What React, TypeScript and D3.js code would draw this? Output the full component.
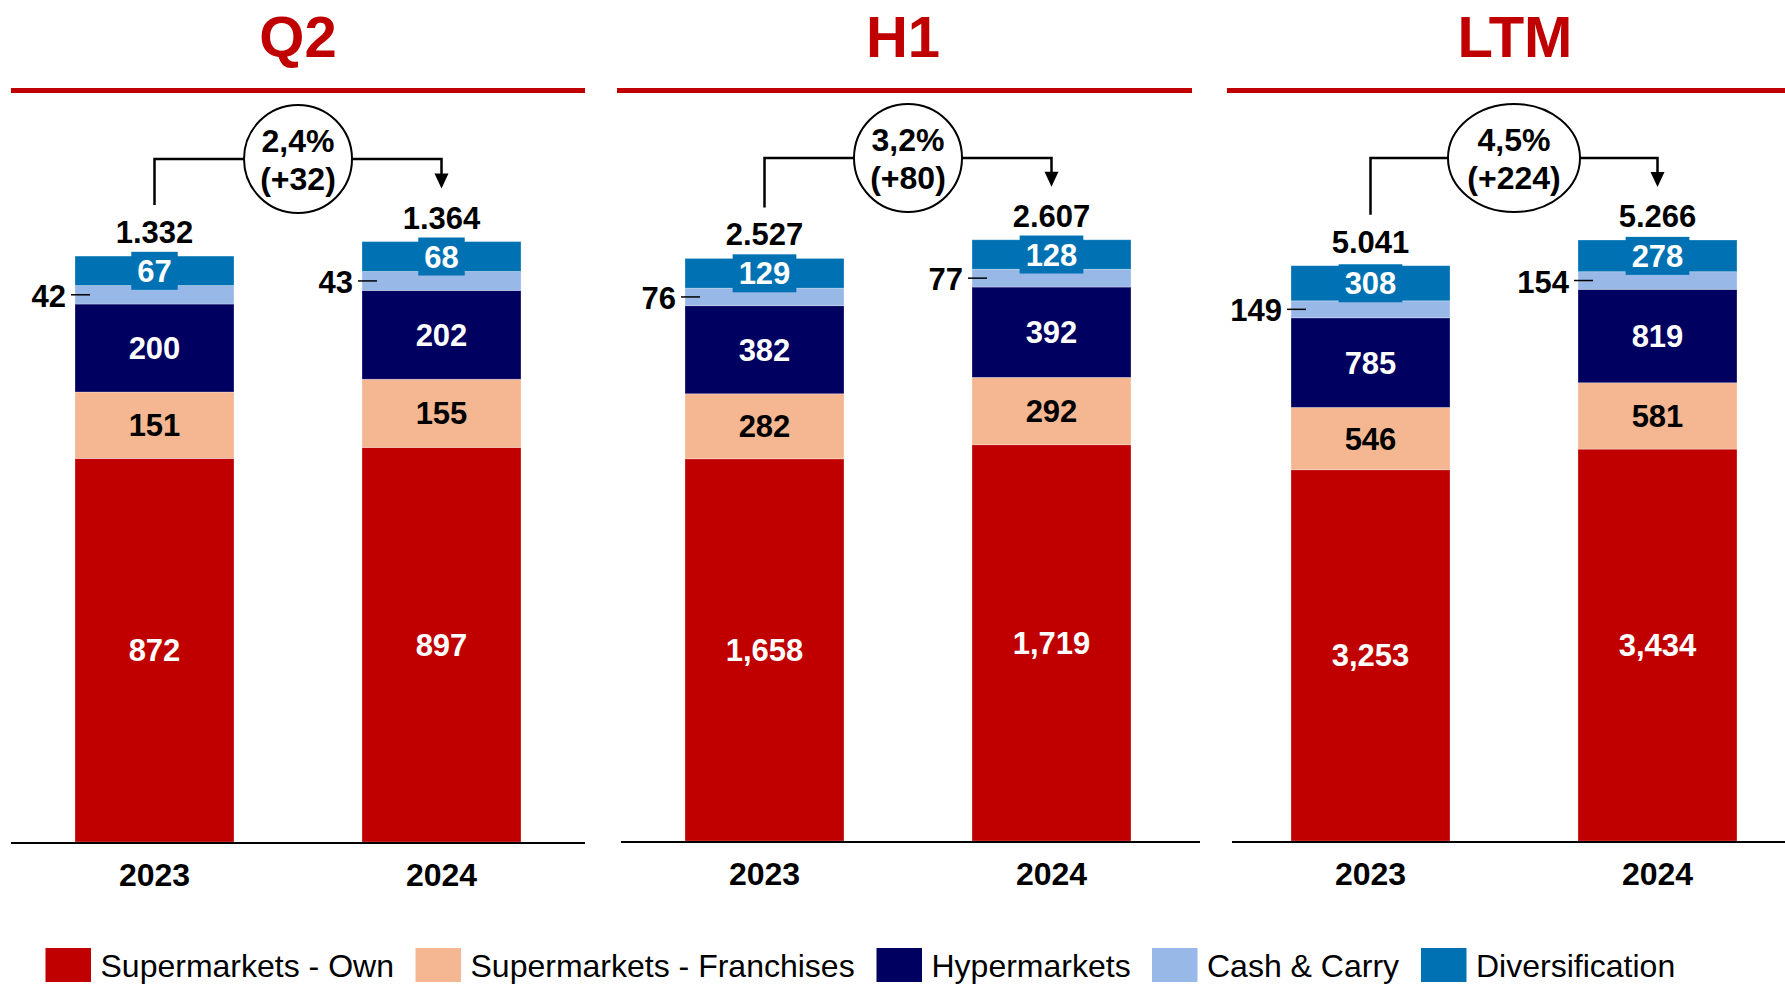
import React from "react";
import * as d3 from "d3";

// ---- Data ----
const PANELS = ["Q2", "H1", "LTM"];
const YEARS = ["2023", "2024"];
const SERIES = [
  "Supermarkets - Own",
  "Supermarkets - Franchises",
  "Hypermarkets",
  "Cash & Carry",
  "Diversification",
];
const superOwn = [[872, 897], [1658, 1719], [3253, 3434]];
const superFranch = [[151, 155], [282, 292], [546, 581]];
const hyper = [[200, 202], [382, 392], [785, 819]];
const cashCarry = [[42, 43], [76, 77], [149, 154]];
const diversification = [[67, 68], [129, 128], [308, 278]];
const totals = [[1332, 1364], [2527, 2607], [5041, 5266]];
const growthPct = ["2,4%", "3,2%", "4,5%"];
const growthAbs = ["(+32)", "(+80)", "(+224)"];

// ---- Style / layout ----
const COLORS = ["#C00000", "#F4B792", "#000060", "#98B8E8", "#0072B4"];
const LABEL_COLORS = ["#fff", "#000", "#fff", "#000", "#fff"];
const FONT = "'Liberation Sans', Arial, Helvetica, sans-serif";
const W = 1785;
const H = 984;
const panelCenter = [298, 908, 1514];
const titleCenter = [298, 903, 1515];
const redLine = [[11, 585], [617, 1192], [1227, 1785]];
const axisLine = [[11, 585], [621, 1200], [1232, 1785]];
const baseY = [842, 841, 841];
const topY = [242, 240, 240];
const ellRx = [54, 54, 66];
const ellCy = [159, 158, 158];
const legendX = [45.5, 415.5, 876.5, 1152, 1421];

const dotFmt = d3.formatLocale({ thousands: ".", decimal: ",", grouping: [3], currency: ["", ""] }).format(",");
const commaFmt = d3.format(",");

function Panel({ p }: { p: number }) {
  const cx = panelCenter[p];
  const x = d3.scaleBand<string>().domain(YEARS).range([cx - 287, cx + 287]).paddingInner(0.446).paddingOuter(0.223);
  const y = d3.scaleLinear().domain([0, totals[p][1]]).range([baseY[p], topY[p]]);
  const rows = YEARS.map((yr, i) => ({
    year: yr,
    s0: superOwn[p][i],
    s1: superFranch[p][i],
    s2: hyper[p][i],
    s3: cashCarry[p][i],
    s4: diversification[p][i],
  }));
  const keys = ["s0", "s1", "s2", "s3", "s4"];
  const stacked = d3.stack<any>().keys(keys)(rows);
  const bw = x.bandwidth();
  const barTop = (i: number) => y(stacked[4][i][1]);
  const totalBase = (i: number) => barTop(i) - 13;
  const c0 = (x(YEARS[0]) as number) + bw / 2;
  const c1 = (x(YEARS[1]) as number) + bw / 2;
  const cy = ellCy[p];
  const rx = ellRx[p];
  const leftBottom = totalBase(0) - 38;
  const tip = totalBase(1) - 40;
  return (
    <g>
      <text x={titleCenter[p]} y={57} textAnchor="middle" fontFamily={FONT} fontWeight="bold" fontSize={58} fill="#C00000">
        {PANELS[p]}
      </text>
      <rect x={redLine[p][0]} y={88} width={redLine[p][1] - redLine[p][0]} height={5} fill="#C00000" />
      {stacked.map((layer, si) =>
        layer.map((d, i) => {
          const bx = x(YEARS[i]) as number;
          const y0 = y(d[0]);
          const y1 = y(d[1]);
          return (
            <rect key={`${si}-${i}`} x={bx} y={y1} width={bw} height={y0 - y1} fill={COLORS[si]} stroke="#ffffff" strokeOpacity={0.35} strokeWidth={0.8} />
          );
        })
      )}
      {stacked.map((layer, si) =>
        layer.map((d, i) => {
          const bx = x(YEARS[i]) as number;
          const v = d[1] - d[0];
          const mid = (y(d[0]) + y(d[1])) / 2;
          const label = commaFmt(v);
          if (si === 3) {
            return (
              <g key={`l${si}-${i}`}>
                <line x1={bx - 4} x2={bx + 15} y1={mid} y2={mid} stroke="#000" strokeWidth={1.5} />
                <text x={bx - 9} y={mid + 12} textAnchor="end" fontFamily={FONT} fontWeight="bold" fontSize={31} fill="#000">
                  {label}
                </text>
              </g>
            );
          }
          const tw = label.length * 0.556 * 31;
          return (
            <g key={`l${si}-${i}`}>
              {si === 4 && <rect x={bx + bw / 2 - tw / 2 - 6} y={mid - 19} width={tw + 12} height={38} fill={COLORS[4]} />}
              <text x={bx + bw / 2} y={mid + 11} textAnchor="middle" fontFamily={FONT} fontWeight="bold" fontSize={31} fill={LABEL_COLORS[si]}>
                {label}
              </text>
            </g>
          );
        })
      )}
      {YEARS.map((yr, i) => (
        <text key={`t${i}`} x={(x(yr) as number) + bw / 2} y={totalBase(i)} textAnchor="middle" fontFamily={FONT} fontWeight="bold" fontSize={31} fill="#000">
          {dotFmt(totals[p][i])}
        </text>
      ))}
      {/* connector */}
      <path d={`M${c0},${leftBottom} V${cy} H${cx - rx}`} fill="none" stroke="#000" strokeWidth={2.5} />
      <path d={`M${cx + rx},${cy} H${c1} V${tip - 12}`} fill="none" stroke="#000" strokeWidth={2.5} />
      <path d={`M${c1 - 7},${tip - 15} L${c1 + 7},${tip - 15} L${c1},${tip} Z`} fill="#000" />
      <ellipse cx={cx} cy={cy} rx={rx} ry={54} fill="#fff" stroke="#000" strokeWidth={2} />
      <text x={cx} y={cy - 7} textAnchor="middle" fontFamily={FONT} fontWeight="bold" fontSize={32} fill="#000">
        {growthPct[p]}
      </text>
      <text x={cx} y={cy + 31} textAnchor="middle" fontFamily={FONT} fontWeight="bold" fontSize={32} fill="#000">
        {growthAbs[p]}
      </text>
      {/* axis */}
      <line x1={axisLine[p][0]} x2={axisLine[p][1]} y1={baseY[p] + 1} y2={baseY[p] + 1} stroke="#000" strokeWidth={2} />
      {YEARS.map((yr) => (
        <text key={yr} x={(x(yr) as number) + bw / 2} y={baseY[p] + 44} textAnchor="middle" fontFamily={FONT} fontWeight="bold" fontSize={32} fill="#000">
          {yr}
        </text>
      ))}
    </g>
  );
}

export default function App() {
  return (
    <svg width={W} height={H} viewBox={`0 0 ${W} ${H}`} style={{ position: "absolute", left: 0, top: 0, background: "#fff" }}>
      <rect x={0} y={0} width={W} height={H} fill="#fff" />
      {PANELS.map((_, p) => (
        <Panel key={p} p={p} />
      ))}
      {SERIES.map((s, i) => (
        <g key={s}>
          <rect x={legendX[i]} y={948} width={45.5} height={34} fill={COLORS[i]} />
          <text x={legendX[i] + 55} y={977} fontFamily={FONT} fontSize={32} fill="#000">
            {s}
          </text>
        </g>
      ))}
    </svg>
  );
}
